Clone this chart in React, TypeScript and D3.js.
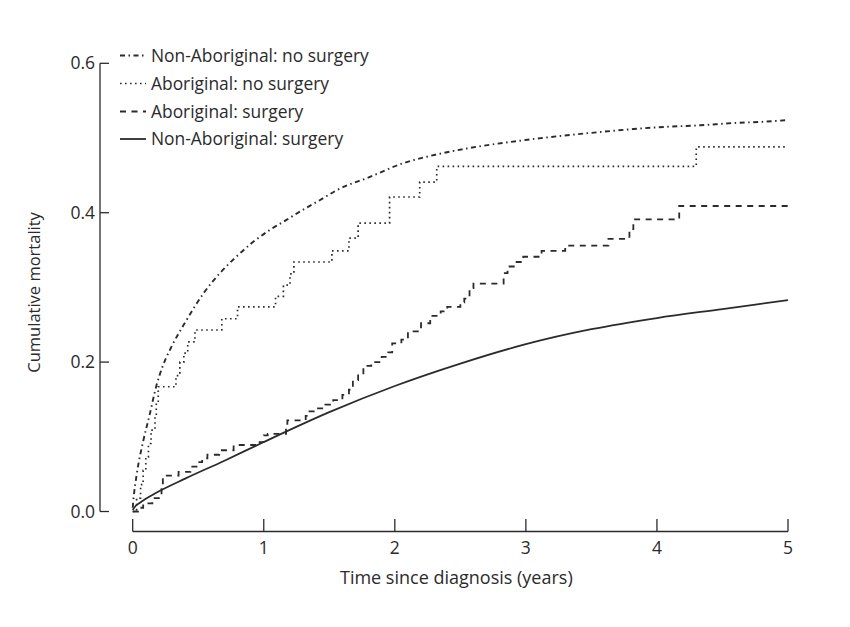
import React from "react";
import * as d3 from "d3";

const xTicks = [0, 1, 2, 3, 4, 5];
const yTicks = [0.0, 0.2, 0.4, 0.6];

// Non-Aboriginal: no surgery (smooth, dash-dot)
const nonAbNoSurgT = [0, 0.005, 0.03, 0.08, 0.13, 0.18, 0.23, 0.3, 0.41, 0.54, 0.665, 0.79, 0.92, 1.047, 1.17, 1.3, 1.43, 1.556, 1.81, 2.06, 2.32, 2.55, 3.03, 3.565, 3.82, 4.07, 4.33, 4.58, 4.84, 5.0];
const nonAbNoSurgV = [0.005, 0.015, 0.049, 0.094, 0.13, 0.168, 0.195, 0.222, 0.256, 0.292, 0.319, 0.341, 0.361, 0.377, 0.39, 0.404, 0.417, 0.43, 0.448, 0.466, 0.478, 0.486, 0.498, 0.508, 0.512, 0.515, 0.517, 0.52, 0.522, 0.524];

// Aboriginal: no surgery (step, dotted)
const abNoSurgT = [0, 0.03, 0.06, 0.08, 0.1, 0.12, 0.14, 0.17, 0.18, 0.195, 0.33, 0.36, 0.39, 0.42, 0.475, 0.68, 0.8, 1.09, 1.15, 1.2, 1.23, 1.52, 1.65, 1.72, 1.96, 2.19, 2.32, 4.3, 5.0];
const abNoSurgV = [0, 0.018, 0.036, 0.055, 0.073, 0.091, 0.109, 0.127, 0.145, 0.167, 0.182, 0.2, 0.212, 0.227, 0.243, 0.258, 0.274, 0.288, 0.303, 0.318, 0.334, 0.349, 0.366, 0.386, 0.421, 0.441, 0.462, 0.488, 0.488];

// Aboriginal: surgery (step, dashed)
const abSurgT = [0, 0.04, 0.08, 0.15, 0.22, 0.23, 0.26, 0.35, 0.44, 0.5, 0.53, 0.57, 0.66, 0.77, 0.95, 1.0, 1.03, 1.17, 1.18, 1.32, 1.34, 1.4, 1.47, 1.53, 1.6, 1.65, 1.68, 1.72, 1.76, 1.82, 1.9, 1.95, 1.98, 2.05, 2.1, 2.2, 2.27, 2.35, 2.4, 2.5, 2.53, 2.57, 2.6, 2.83, 2.86, 2.92, 2.98, 3.12, 3.3, 3.63, 3.79, 3.82, 4.17, 5.0];
const abSurgV = [0, 0.005, 0.011, 0.018, 0.035, 0.045, 0.048, 0.053, 0.06, 0.066, 0.071, 0.076, 0.082, 0.089, 0.093, 0.102, 0.104, 0.115, 0.122, 0.128, 0.134, 0.138, 0.143, 0.149, 0.156, 0.163, 0.176, 0.185, 0.195, 0.2, 0.207, 0.213, 0.225, 0.23, 0.241, 0.252, 0.262, 0.268, 0.274, 0.28, 0.285, 0.299, 0.305, 0.319, 0.328, 0.334, 0.341, 0.349, 0.356, 0.365, 0.378, 0.391, 0.409, 0.409];

// Non-Aboriginal: surgery (smooth, solid)
const nonAbSurgT = [0, 0.02, 0.05, 0.1, 0.2, 0.4, 0.7, 1.0, 1.5, 2.0, 2.5, 3.0, 3.5, 4.0, 4.5, 5.0];
const nonAbSurgV = [0.002, 0.007, 0.011, 0.017, 0.027, 0.044, 0.068, 0.093, 0.133, 0.168, 0.198, 0.224, 0.244, 0.259, 0.271, 0.283];

const legendLabels = ["Non-Aboriginal: no surgery", "Aboriginal: no surgery", "Aboriginal: surgery", "Non-Aboriginal: surgery"];

const INK = "#2b2b2b";
const FONT = "'Open Sans', 'Noto Sans', sans-serif";

const DASH = {
  dashdot: "5,3.5,1.5,3.5",
  dotted: "1.6,3.4",
  dashed: "6,5.5",
  solid: "none",
};

export default function App() {
  const x = d3.scaleLinear().domain([0, 5]).range([132.7, 788]);
  const y = d3.scaleLinear().domain([0, 0.6]).range([511.5, 63.3]);

  const smooth = d3
    .line<number>()
    .x((d) => x(d[0]))
    .y((d) => y(d[1]))
    .curve(d3.curveMonotoneX);
  const step = d3
    .line<number>()
    .x((d) => x(d[0]))
    .y((d) => y(d[1]))
    .curve(d3.curveStepAfter);

  const zip = (t: number[], v: number[]) => t.map((tt, i) => [tt, v[i]] as [number, number]);

  const series = [
    { d: (smooth as any)(zip(nonAbNoSurgT, nonAbNoSurgV)), dash: DASH.dashdot, w: 1.9 },
    { d: (step as any)(zip(abNoSurgT, abNoSurgV)), dash: DASH.dotted, w: 1.7 },
    { d: (step as any)(zip(abSurgT, abSurgV)), dash: DASH.dashed, w: 1.8 },
    { d: (smooth as any)(zip(nonAbSurgT, nonAbSurgV)), dash: DASH.solid, w: 1.8 },
  ];

  const yAxisX = 100;
  const xAxisY = 531.5;
  const legendYs = [55.5, 83.5, 111.5, 139];

  return (
    <svg
      width={850}
      height={627}
      style={{ position: "absolute", left: 0, top: 0, background: "#fff" }}
      fontFamily={FONT}
    >
      <rect x={0} y={0} width={850} height={627} fill="#fff" />
      {/* Y axis */}
      <line x1={yAxisX} x2={yAxisX} y1={y(0.6)} y2={y(0)} stroke={INK} strokeWidth={1.3} />
      {yTicks.map((t) => (
        <g key={t}>
          <line x1={yAxisX} x2={yAxisX + 9} y1={y(t)} y2={y(t)} stroke={INK} strokeWidth={1.3} />
          <text x={yAxisX - 5} y={y(t)} dy="0.35em" textAnchor="end" fontSize={17.5} fill={INK}>
            {d3.format(".1f")(t)}
          </text>
        </g>
      ))}
      <text
        transform={`translate(40,${(y(0) + y(0.6)) / 2 + 5}) rotate(-90)`}
        textAnchor="middle"
        fontSize={16.5}
        fill={INK}
      >
        Cumulative mortality
      </text>

      {/* X axis */}
      <line x1={x(0)} x2={x(5)} y1={xAxisY} y2={xAxisY} stroke={INK} strokeWidth={1.3} />
      {xTicks.map((t) => (
        <g key={t}>
          <line x1={x(t)} x2={x(t)} y1={xAxisY} y2={xAxisY - 12.5} stroke={INK} strokeWidth={1.3} />
          <text x={x(t)} y={xAxisY + 22} textAnchor="middle" fontSize={17.5} fill={INK}>
            {t}
          </text>
        </g>
      ))}
      <text x={(x(0) + x(5)) / 2 - 4} y={584} textAnchor="middle" fontSize={18} fill={INK}>
        Time since diagnosis (years)
      </text>

      {/* Curves */}
      {series.map((s, i) => (
        <path
          key={i}
          d={s.d}
          fill="none"
          stroke={INK}
          strokeWidth={s.w}
          strokeDasharray={s.dash}
        />
      ))}

      {/* Legend */}
      {legendLabels.map((lab, i) => (
        <g key={lab}>
          <line
            x1={120}
            x2={146}
            y1={legendYs[i]}
            y2={legendYs[i]}
            stroke={INK}
            strokeWidth={series[i].w}
            strokeDasharray={series[i].dash}
          />
          <text x={151} y={legendYs[i]} dy="0.35em" fontSize={17.4} fill={INK}>
            {lab}
          </text>
        </g>
      ))}
    </svg>
  );
}
